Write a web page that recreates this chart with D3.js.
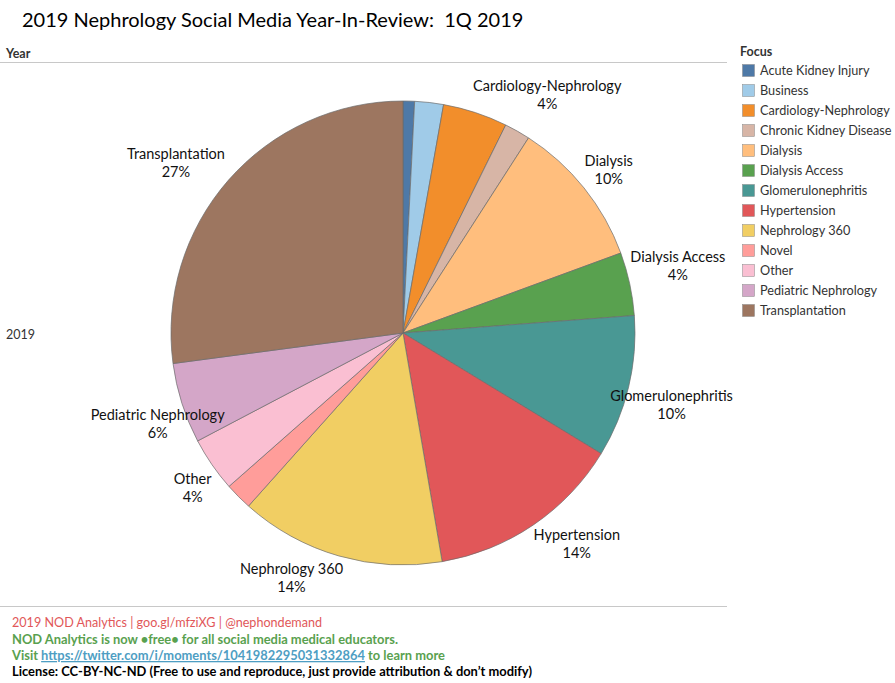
<!DOCTYPE html>
<html>
<head>
<meta charset="utf-8">
<script src="https://cdn.jsdelivr.net/npm/d3@7"></script>
<style>
  body { margin: 0; background: #fff; }
  svg { font-family: Lato, "Open Sans", sans-serif; }
  text { white-space: pre; }
</style>
</head>
<body>
<svg id="chart" width="895" height="683"></svg>
<script>
const categories = ['Acute Kidney Injury', 'Business', 'Cardiology-Nephrology', 'Chronic Kidney Disease',
  'Dialysis', 'Dialysis Access', 'Glomerulonephritis', 'Hypertension', 'Nephrology 360',
  'Novel', 'Other', 'Pediatric Nephrology', 'Transplantation'];
const shares = [0.8, 2.0, 4.5, 1.8, 10.3, 4.4, 9.9, 13.6, 14.3, 1.9, 3.8, 5.6, 27.1];
const pctLabels = ['1%', '2%', '4%', '2%', '10%', '4%', '10%', '14%', '14%', '2%', '4%', '6%', '27%'];
const colors = ['#4e79a7', '#a0cbe8', '#f28e2b', '#d7b5a6', '#ffbe7d', '#59a14f', '#499894',
  '#e15759', '#f1ce63', '#ff9d9a', '#fabfd2', '#d4a6c8', '#9d7660'];

const data = categories.map((c, i) => ({ focus: c, value: shares[i], pct: pctLabels[i] }));

const svg = d3.select('#chart');
const cx = 403, cy = 333, radius = 232;

// title + header
svg.append('text').attr('x', 22).attr('y', 27)
  .attr('font-size', 20).attr('fill', '#000')
  .text('2019 Nephrology Social Media Year-In-Review:  1Q 2019');

svg.append('text').attr('x', 6).attr('y', 58)
  .attr('font-size', 12.5).attr('font-weight', 'bold').attr('fill', '#333').text('Year');
svg.append('line').attr('x1', 0).attr('x2', 727).attr('y1', 62.5).attr('y2', 62.5)
  .attr('stroke', '#c8c8c8');
svg.append('text').attr('x', 6).attr('y', 339)
  .attr('font-size', 12.5).attr('fill', '#333').text('2019');

// pie
const color = d3.scaleOrdinal().domain(categories).range(colors);
const pie = d3.pie().value(d => d.value).sort(null);
const arc = d3.arc().innerRadius(0).outerRadius(radius);
const labelArc = d3.arc().innerRadius(270).outerRadius(270);
const arcs = pie(data);

const g = svg.append('g').attr('transform', `translate(${cx},${cy})`);
g.selectAll('path.slice')
  .data(arcs)
  .join('path')
  .attr('class', 'slice')
  .attr('d', arc)
  .attr('fill', d => color(d.data.focus))
  .attr('stroke', '#6b6b6b')
  .attr('stroke-width', 0.7);

// labels only for larger slices; nudged the way tableau spreads them out
const nudge = {
  'Cardiology-Nephrology': [60, 19], 'Dialysis': [-5, 6], 'Dialysis Access': [11, -10],
  'Glomerulonephritis': [6, 9], 'Hypertension': [22, -12], 'Nephrology 360': [-37, -15],
  'Other': [12, 2], 'Pediatric Nephrology': [12, 9], 'Transplantation': [-24, 8]
};
const lab = g.selectAll('g.lab')
  .data(arcs.filter(d => d.data.value >= 3.5))
  .join('g')
  .attr('class', 'lab')
  .attr('transform', d => {
    const [x, y] = labelArc.centroid(d);
    const n = nudge[d.data.focus] || [0, 0];
    return `translate(${x + n[0]},${y + n[1]})`;
  });
lab.append('text').attr('text-anchor', 'middle').attr('y', -4)
  .attr('font-size', 14.5).attr('fill', '#111').text(d => d.data.focus);
lab.append('text').attr('text-anchor', 'middle').attr('y', 14)
  .attr('font-size', 14.5).attr('fill', '#111').text(d => d.data.pct);

// legend
const legend = svg.append('g').attr('transform', 'translate(740,0)');
legend.append('text').attr('x', 0).attr('y', 56)
  .attr('font-size', 12.5).attr('font-weight', 'bold').attr('fill', '#333').text('Focus');
const item = legend.selectAll('g.item')
  .data(categories)
  .join('g')
  .attr('class', 'item')
  .attr('transform', (d, i) => `translate(0,${64 + i * 20})`);
item.append('rect').attr('x', 2.5).attr('y', 0.5).attr('width', 12).attr('height', 12)
  .attr('fill', d => color(d)).attr('stroke', '#888').attr('stroke-width', 0.5);
item.append('text').attr('x', 20).attr('y', 11)
  .attr('font-size', 12.7).attr('fill', '#333').text(d => d);

// footer
svg.append('line').attr('x1', 0).attr('x2', 727).attr('y1', 606.5).attr('y2', 606.5)
  .attr('stroke', '#c8c8c8');
const foot = svg.append('g').attr('font-size', 12.6);
foot.append('text').attr('x', 12).attr('y', 627).attr('fill', '#e15759')
  .text('2019 NOD Analytics | goo.gl/mfziXG | @nephondemand');
foot.append('text').attr('x', 12).attr('y', 644).attr('fill', '#59a14f').attr('font-weight', 'bold')
  .attr('font-size', 12.9)
  .text('NOD Analytics is now \u2022free\u2022 for all social media medical educators.');
const visit = foot.append('text').attr('x', 12).attr('y', 660).attr('font-weight', 'bold')
  .attr('font-size', 12.9);
visit.append('tspan').attr('fill', '#59a14f').text('Visit ');
visit.append('tspan').attr('fill', '#4e9ec3').attr('text-decoration', 'underline')
  .text('https://twitter.com/i/moments/1041982295031332864');
visit.append('tspan').attr('fill', '#59a14f').text(' to learn more');
foot.append('text').attr('x', 12).attr('y', 676).attr('fill', '#000').attr('font-weight', 'bold')
  .attr('font-size', 12.9)
  .text('License: CC-BY-NC-ND (Free to use and reproduce, just provide attribution & don\u2019t modify)');
</script>
</body>
</html>
